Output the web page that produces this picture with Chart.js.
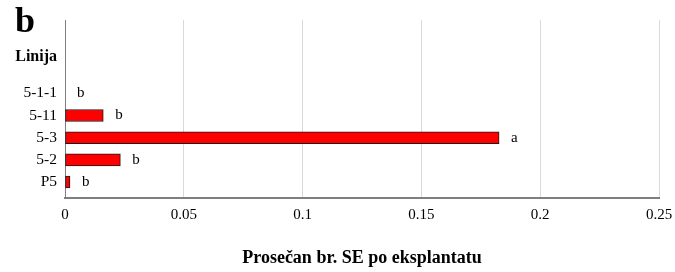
<!DOCTYPE html>
<html>
<head>
<meta charset="utf-8">
<script src="https://cdn.jsdelivr.net/npm/chart.js@4/dist/chart.umd.min.js"></script>
<style>
  html, body { margin: 0; padding: 0; background: #fff; }
  #wrap { width: 675px; height: 272px; position: relative; }
</style>
</head>
<body>
<div id="wrap"><canvas id="chart"></canvas></div>
<script>
// data, listed top to bottom as in the figure
const categories = ['5-1-1', '5-11', '5-3', '5-2', 'P5'];
const values = [0, 0.0161, 0.1827, 0.0233, 0.0021];
const letters = ['b', 'b', 'a', 'b', 'b'];
const xTicks = [0, 0.05, 0.1, 0.15, 0.2, 0.25];
const panelLabel = 'b';
const yTitle = 'Linija';
const xTitle = 'Prosečan br. SE po eksplantatu';

const FONT = "'Liberation Serif', 'Times New Roman', serif";

// position of each category on the y axis (bottom = 0)
const yPos = categories.map((c, i) => categories.length - 1 - i);
const yTitlePos = 5.66;

const barData = values.map((v, i) => ({ x: v, y: yPos[i] }));

const annotate = {
    id: 'annotate',
    afterDatasetsDraw(chart) {
        const { ctx, scales: { x, y } } = chart;
        ctx.save();
        ctx.fillStyle = '#000';
        ctx.textBaseline = 'middle';
        ctx.textAlign = 'left';
        ctx.font = '15px ' + FONT;
        letters.forEach((l, i) => {
            ctx.fillText(l, x.getPixelForValue(values[i]) + 12, y.getPixelForValue(yPos[i]));
        });
        // panel letter
        ctx.font = 'bold 36px ' + FONT;
        ctx.textBaseline = 'alphabetic';
        ctx.fillText(panelLabel, 15, 32);
        ctx.restore();
    }
};

new Chart(document.getElementById('chart'), {
    type: 'bar',
    data: {
        datasets: [{
            data: barData,
            backgroundColor: '#ff0000',
            borderColor: '#1a1a1a',
            borderWidth: 1,
            borderSkipped: false,
            barThickness: 12
        }]
    },
    options: {
        indexAxis: 'y',
        responsive: true,
        maintainAspectRatio: false,
        animation: false,
        layout: { padding: { top: 20, right: 16, left: 0, bottom: 0 } },
        plugins: {
            legend: { display: false },
            tooltip: { enabled: false }
        },
        scales: {
            x: {
                type: 'linear',
                min: 0,
                max: 0.25,
                afterBuildTicks: (scale) => { scale.ticks = xTicks.map(v => ({ value: v })); },
                afterFit: (scale) => {
                    scale.height = 74;
                    scale.paddingRight = 0;
                    scale.paddingLeft = 0;
                },
                grid: { color: '#d9d9d9', drawTicks: false },
                border: { color: '#7f7f7f', width: 2 },
                ticks: {
                    color: '#000',
                    padding: 8,
                    maxRotation: 0,
                    font: { family: FONT, size: 15 },
                    callback: (v) => String(v)
                },
                title: {
                    display: true,
                    text: xTitle,
                    color: '#000',
                    font: { family: FONT, size: 18, weight: 'bold' },
                    padding: { top: 0, bottom: 3 }
                }
            },
            y: {
                type: 'linear',
                min: -0.72,
                max: 7.31,
                offset: false,
                afterBuildTicks: (scale) => {
                    scale.ticks = yPos.map(v => ({ value: v })).concat([{ value: yTitlePos }]);
                },
                afterFit: (scale) => { scale.width = 65; },
                grid: { display: false, drawTicks: false, offset: false },
                border: { color: '#7f7f7f', width: 1 },
                ticks: {
                    color: '#000',
                    padding: 8,
                    font: (c) => (c.tick && c.tick.value > 5)
                        ? { family: FONT, size: 16, weight: 'bold' }
                        : { family: FONT, size: 15.5 },
                    callback: (v) => {
                        if (v === yTitlePos) return yTitle;
                        const i = yPos.indexOf(v);
                        return i >= 0 ? categories[i] : '';
                    }
                }
            }
        }
    },
    plugins: [annotate]
});
</script>
</body>
</html>
